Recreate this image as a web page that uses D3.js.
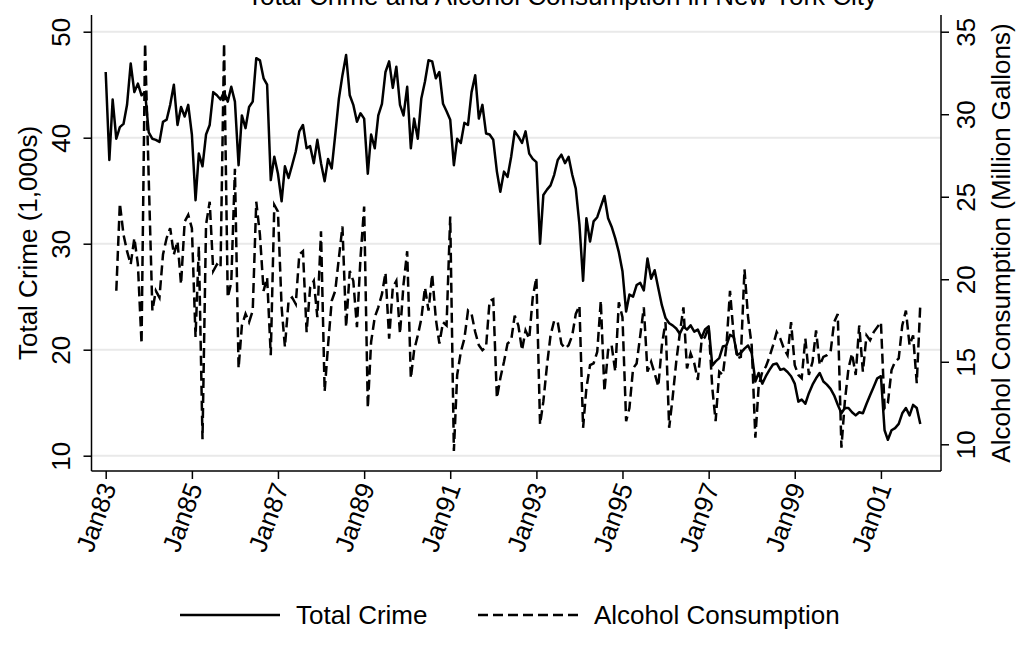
<!DOCTYPE html>
<html>
<head>
<meta charset="utf-8">
<script src="https://cdn.jsdelivr.net/npm/d3@7"></script>
<style>
  body { margin: 0; background: #fff; }
  svg { display: block; font-family: "Liberation Sans", Arial, sans-serif; }
</style>
</head>
<body>
<script>
const width = 1029
const height = 645

// monthly series, Jan 1983 .. Dec 2001
const startMonth = new Date(1983, 0, 1)

const totalCrime = [
  46.2, 37.9, 43.6, 39.9, 41.0, 41.3, 43.1, 47.0, 44.3, 45.1, 44.0, 44.3,
  40.5, 39.9, 39.8, 39.6, 41.5, 41.7, 43.1, 45.0, 41.2, 42.9, 42.0, 43.1,
  40.3, 34.1, 38.5, 37.3, 40.3, 41.2, 44.3, 44.0, 43.6, 44.3, 43.4, 44.8,
  43.4, 37.4, 42.1, 40.9, 42.9, 43.4, 47.5, 47.3, 45.6, 45.0, 36.0, 38.2,
  36.6, 34.0, 37.3, 36.2, 37.4, 38.7, 40.6, 41.2, 39.0, 39.2, 37.6, 39.8,
  37.6, 35.9, 38.0, 37.1, 40.3, 43.7, 45.9, 47.8, 44.0, 43.1, 41.5, 42.3,
  41.8, 36.6, 40.3, 39.0, 42.1, 43.2, 46.2, 47.2, 44.7, 46.7, 43.1, 42.1,
  44.8, 39.0, 41.8, 39.9, 43.7, 45.3, 47.3, 47.2, 45.6, 46.2, 43.2, 42.5,
  41.7, 37.4, 39.9, 39.5, 41.4, 41.2, 44.3, 45.9, 41.8, 43.1, 40.4, 40.3,
  39.8, 36.8, 34.9, 36.8, 36.3, 38.2, 40.6, 40.1, 39.5, 40.6, 38.5, 38.0,
  37.7, 30.0, 34.6, 35.1, 35.5, 36.5, 37.9, 38.4, 37.6, 38.2, 36.5, 35.2,
  31.8, 26.5, 32.4, 30.2, 32.1, 32.5, 33.5, 34.5, 32.4, 31.6, 30.5, 29.2,
  27.4, 23.6, 25.2, 25.0, 26.1, 26.3, 25.6, 28.6, 26.7, 27.5, 25.8, 24.2,
  23.0, 22.5, 22.3, 22.0, 21.5, 22.2, 21.9, 22.3, 21.7, 21.9, 21.1, 21.9,
  22.2, 18.5, 18.9, 19.2, 20.3, 20.4, 21.4, 21.2, 19.5, 19.7, 20.1, 20.4,
  19.7, 17.0, 17.8, 16.8, 17.5, 18.1, 18.6, 18.7, 18.1, 18.2, 17.9, 17.5,
  16.8, 15.1, 15.3, 14.9, 15.9, 16.7, 17.3, 17.8, 17.0, 16.7, 16.3, 15.7,
  14.8, 14.0, 14.5, 14.5, 14.1, 13.8, 14.1, 14.0, 14.9, 15.7, 16.5, 17.3,
  17.5, 12.4, 11.5, 12.4, 12.6, 13.0, 14.0, 14.5, 13.8, 14.8, 14.5, 13.0
]

const alcohol = [
  null, null, null, 19.3, 24.6, 22.7, 21.7, 20.9, 22.5, 20.9, 16.1, 34.3,
  26.1, 18.1, 19.3, 18.9, 21.5, 22.5, 23.1, 21.5, 22.3, 19.7, 23.5, 23.9,
  23.1, 16.5, 22.0, 10.3, 23.3, 24.7, 20.5, 20.9, 20.7, 34.3, 18.9, 19.8,
  26.7, 14.6, 17.2, 17.9, 17.4, 18.1, 24.7, 22.7, 19.3, 20.1, 15.4, 24.5,
  24.1, 18.3, 15.9, 18.7, 18.9, 18.5, 21.5, 21.7, 16.8, 19.5, 19.9, 17.7,
  22.9, 13.2, 16.0, 18.7, 19.3, 21.3, 23.2, 17.1, 20.5, 19.9, 17.1, 21.3,
  24.4, 12.2, 16.2, 17.7, 18.3, 19.1, 20.4, 16.4, 19.5, 19.9, 16.7, 19.7,
  21.7, 14.0, 15.7, 16.6, 17.6, 19.5, 18.1, 20.3, 17.6, 16.1, 17.4, 17.2,
  23.8, 9.6, 14.2, 15.6, 16.4, 18.1, 17.9, 16.8, 16.0, 15.7, 15.9, 18.7,
  18.8, 12.8, 14.0, 15.0, 16.1, 16.3, 17.8, 17.2, 15.7, 16.9, 16.4, 18.9,
  20.1, 11.2, 12.6, 14.8, 16.6, 17.5, 17.4, 16.1, 15.8, 16.0, 16.6, 17.9,
  18.4, 11.0, 13.4, 14.8, 14.9, 15.6, 18.7, 13.2, 15.7, 16.0, 14.4, 18.6,
  17.7, 11.4, 12.2, 14.6, 14.9, 16.6, 18.3, 14.4, 15.0, 14.3, 13.5, 16.0,
  17.4, 11.0, 12.8, 15.0, 16.7, 18.3, 14.6, 15.5, 14.9, 13.9, 16.2, 16.5,
  17.1, 13.4, 11.4, 14.4, 14.2, 16.0, 19.3, 16.6, 15.2, 15.3, 20.6, 17.7,
  16.0, 10.4, 13.5, 14.4, 14.7, 15.3, 16.0, 16.8, 16.4, 15.8, 15.4, 17.4,
  14.8, 14.2, 14.0, 16.4, 14.2, 15.0, 16.9, 14.8, 15.3, 15.4, 15.6, 17.4,
  17.9, 9.8, 12.6, 14.6, 15.5, 14.2, 17.2, 14.4, 16.6, 16.3, 16.8, 17.1,
  17.4, 12.2, 12.5, 14.5, 15.0, 15.2, 17.2, 18.1, 16.0, 16.6, 13.7, 18.5
]

const crimeTicks = [10, 20, 30, 40, 50]
const alcoholTicks = [10, 15, 20, 25, 30, 35]
const yearTicks = [1983, 1985, 1987, 1989, 1991, 1993, 1995, 1997, 1999, 2001]

const months = totalCrime.map((d, i) => d3.timeMonth.offset(startMonth, i))

const frame = {left: 91.5, right: 941, top: 15, bottom: 471}
const dashPattern = "10,5"

const x = d3.scaleTime()
  .domain([months[0], months[months.length - 1]])
  .range([105.7, 920.3])

const yL = d3.scaleLinear().domain([10, 50]).range([455.7, 31.7])
const yR = d3.scaleLinear().domain([10, 35]).range([444.3, 31.7])

const svg = d3.select("body").append("svg")
  .attr("width", width)
  .attr("height", height)
  .attr("viewBox", [0, 0, width, height])

// title (cut off at the top in the original)
svg.append("text")
  .attr("x", 562)
  .attr("y", 5)
  .attr("text-anchor", "middle")
  .attr("font-size", 26)
  .text("Total Crime and Alcohol Consumption in New York City")

// gridlines
svg.append("g")
  .selectAll("line")
  .data(crimeTicks)
  .join("line")
    .attr("x1", frame.left)
    .attr("x2", frame.right)
    .attr("y1", d => yL(d))
    .attr("y2", d => yL(d))
    .attr("stroke", "#e9e9e9")
    .attr("stroke-width", 2)

// series
const crimeLine = d3.line()
  .x((d, i) => x(months[i]))
  .y(d => yL(d))

const alcLine = d3.line()
  .defined(d => d != null)
  .x((d, i) => x(months[i]))
  .y(d => yR(d))

svg.append("path")
  .datum(alcohol)
  .attr("fill", "none")
  .attr("stroke", "black")
  .attr("stroke-width", 2.5)
  .attr("stroke-dasharray", dashPattern)
  .attr("d", alcLine)

svg.append("path")
  .datum(totalCrime)
  .attr("fill", "none")
  .attr("stroke", "black")
  .attr("stroke-width", 2.5)
  .attr("stroke-linejoin", "round")
  .attr("d", crimeLine)

// axes
const styleAxis = g => g
  .attr("font-size", 26)
  .attr("font-family", "Liberation Sans, Arial, sans-serif")
  .call(g => g.selectAll(".tick line").attr("stroke-width", 1.5))
  .call(g => g.select(".domain").remove())

svg.append("g")
  .attr("transform", `translate(${frame.left},0)`)
  .call(d3.axisLeft(yL).tickValues(crimeTicks).tickSize(8))
  .call(styleAxis)
  .call(g => g.selectAll(".tick text")
    .attr("x", null).attr("dy", null)
    .attr("text-anchor", "middle")
    .attr("transform", "translate(-22,0) rotate(-90)"))

svg.append("g")
  .attr("transform", `translate(${frame.right},0)`)
  .call(d3.axisRight(yR).tickValues(alcoholTicks).tickSize(8))
  .call(styleAxis)
  .call(g => g.selectAll(".tick text")
    .attr("x", null).attr("dy", null)
    .attr("text-anchor", "middle")
    .attr("transform", "translate(34,0) rotate(-90)"))

svg.append("g")
  .attr("transform", `translate(0,${frame.bottom})`)
  .call(d3.axisBottom(x)
    .tickValues(yearTicks.map(y => new Date(y, 0, 1)))
    .tickFormat(d3.timeFormat("Jan%y"))
    .tickSize(8))
  .call(styleAxis)
  .call(g => g.selectAll(".tick text")
    .attr("y", null).attr("dy", "0.35em")
    .attr("text-anchor", "end")
    .attr("transform", "translate(2,13) rotate(-70)"))

// axis lines
const axisLines = [
  [frame.left, frame.top, frame.left, frame.bottom],
  [frame.right, frame.top, frame.right, frame.bottom],
  [frame.left, frame.bottom, frame.right, frame.bottom]
]
svg.append("g")
  .selectAll("line")
  .data(axisLines)
  .join("line")
    .attr("x1", d => d[0]).attr("y1", d => d[1])
    .attr("x2", d => d[2]).attr("y2", d => d[3])
    .attr("stroke", "black")
    .attr("stroke-width", 1.5)

// axis titles
svg.append("text")
  .attr("transform", `translate(37,${(frame.top + frame.bottom) / 2}) rotate(-90)`)
  .attr("text-anchor", "middle")
  .attr("font-size", 26)
  .text("Total Crime (1,000s)")

svg.append("text")
  .attr("transform", `translate(1010,${(frame.top + frame.bottom) / 2}) rotate(-90)`)
  .attr("text-anchor", "middle")
  .attr("font-size", 26)
  .text("Alcohol Consumption (Million Gallons)")

// legend
const legend = [
  {label: "Total Crime", x: 180, dash: null},
  {label: "Alcohol Consumption", x: 478, dash: dashPattern}
]
const lg = svg.append("g")
  .selectAll("g")
  .data(legend)
  .join("g")
    .attr("transform", d => `translate(${d.x},615)`)

lg.append("line")
  .attr("x1", 0).attr("x2", 100)
  .attr("stroke", "black")
  .attr("stroke-width", 2.5)
  .attr("stroke-dasharray", d => d.dash)

lg.append("text")
  .attr("x", 116)
  .attr("dy", "0.35em")
  .attr("font-size", 26)
  .text(d => d.label)
</script>
</body>
</html>
